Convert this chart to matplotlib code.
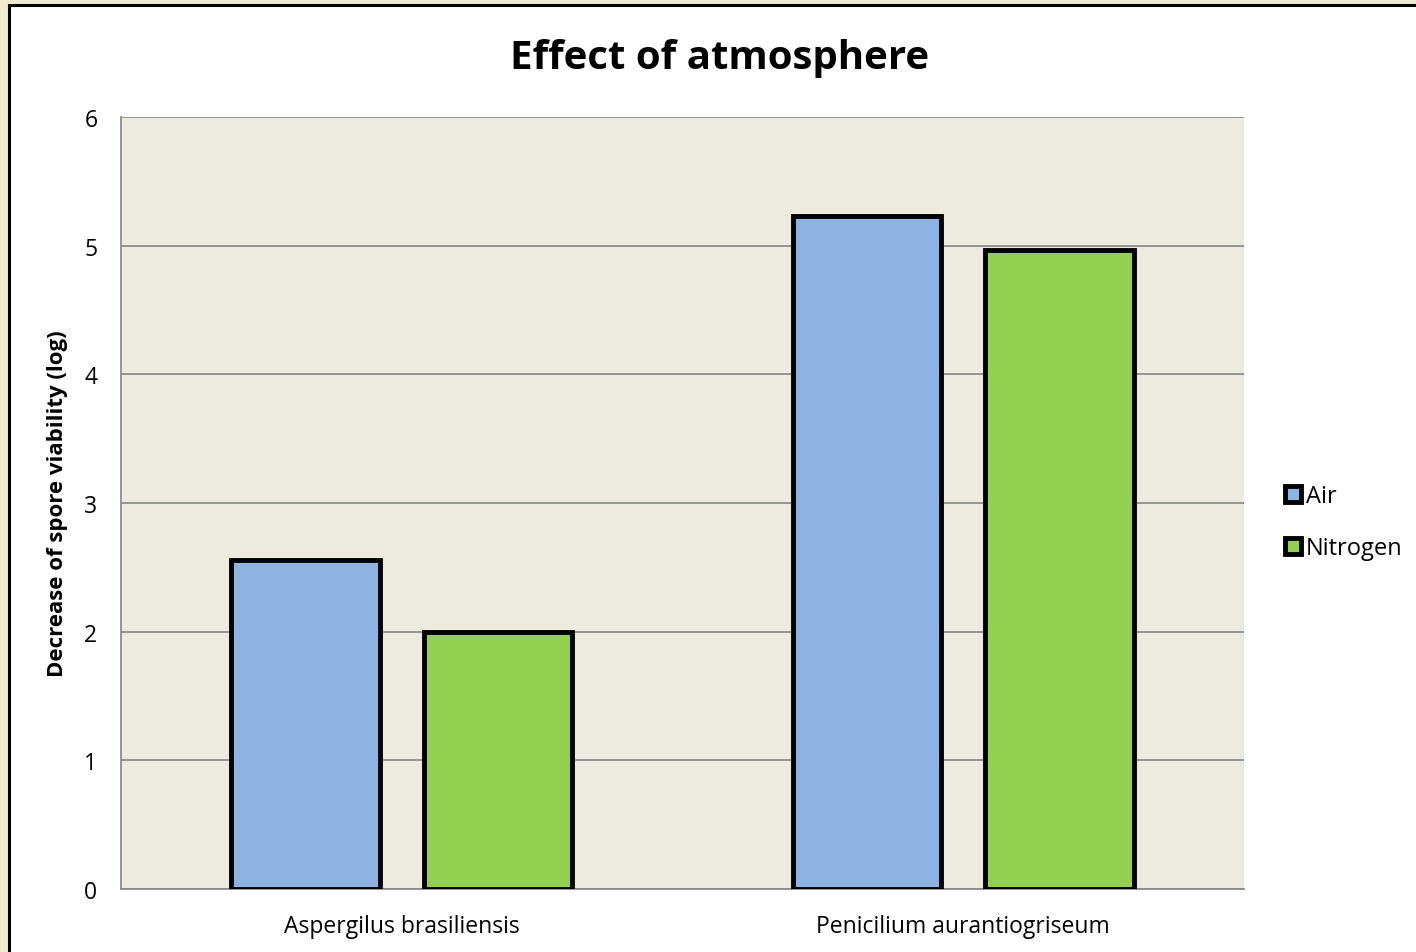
import matplotlib
matplotlib.use("Agg")
import matplotlib.pyplot as plt
from matplotlib.patches import Rectangle
import numpy as np

categories = ["Aspergilus brasiliensis", "Penicilium aurantiogriseum"]
series_names = ["Air", "Nitrogen"]
air = [2.56, 5.23]
nitrogen = [2.0, 4.97]
y_ticks = [0, 1, 2, 3, 4, 5, 6]

colors = ["#8DB3E2", "#92D050"]
plt.rcParams["font.family"] = ["Open Sans", "DejaVu Sans"]

W, H = 1416, 953
fig = plt.figure(figsize=(W / 100, H / 100), dpi=100)
fig.patch.set_facecolor("#F1EACD")

# white chart panel with dark frame, behind the axes
panel = Rectangle((9 / W, -0.05), 1.1, 1 - 6 / H + 0.05, transform=fig.transFigure,
                  facecolor="white", edgecolor="black", linewidth=2.2, zorder=-5)
fig.patches.append(panel)

ax = fig.add_axes([121 / W, 1 - 890 / H, (1244 - 121) / W, (890 - 118) / H])
ax.set_zorder(1)
ax.set_facecolor("#EDEADF")

x = np.arange(len(categories))
width = 0.265
offset = 0.1715
for vals, name, c, d in zip([air, nitrogen], series_names, colors, [-offset, offset]):
    ax.bar(x + d, vals, width, color=c, edgecolor="black", linewidth=3.5,
           label=name, zorder=3)

ax.set_xlim(-0.5, 1.5)
ax.set_ylim(0, 6)
ax.set_yticks(y_ticks)
ax.set_xticks(x)
ax.set_xticklabels(categories)
ax.tick_params(axis="both", length=0, labelsize=16.5, colors="black")
ax.tick_params(axis="x", pad=18)
ax.tick_params(axis="y", pad=17)
ax.yaxis.grid(True, color="#8C8C8C", linewidth=1.3, zorder=1)
ax.set_axisbelow(True)
for side in ["top", "right"]:
    ax.spines[side].set_visible(False)
ax.spines["left"].set_color("#8C8C8C")
ax.spines["bottom"].set_color("#8C8C8C")
ax.spines["left"].set_linewidth(1.3)
ax.spines["bottom"].set_linewidth(1.3)

ax.set_ylabel("Decrease of spore viability (log)", fontsize=16, fontweight="bold", labelpad=12)
fig.text(720 / W, 1 - 59 / H, "Effect of atmosphere", fontsize=29, fontweight="bold",
         ha="center", va="center")

leg = ax.legend(loc="center left", bbox_to_anchor=(1.028, 0.475), frameon=False,
                fontsize=17, handlelength=0.7, handleheight=0.7, handletextpad=0.2,
                labelspacing=1.2, borderaxespad=0)
for h in leg.legend_handles:
    h.set_linewidth(3.5)

fig.savefig("out.png", dpi=100, facecolor=fig.get_facecolor())
